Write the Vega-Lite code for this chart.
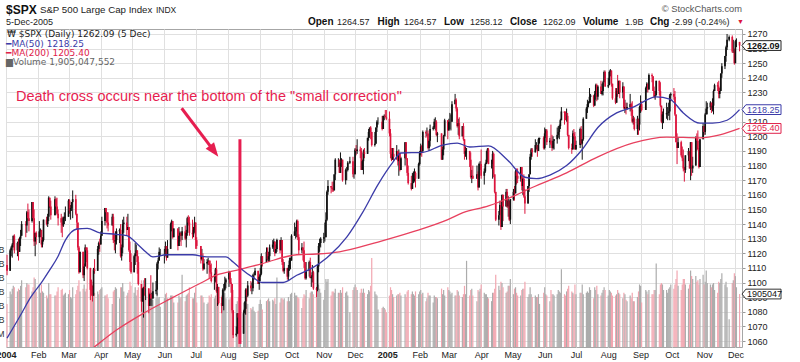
{
"$schema": "https://vega.github.io/schema/vega-lite/v6.json",
"width": 736, "height": 318,
"autosize": {"type": "none"},
"padding": {"left": 6, "top": 29, "right": 58, "bottom": 15},
"background": "white",
"config": {"font": "Liberation Sans", "view": {"stroke": "#a6a6a6", "strokeWidth": 1}, "axis": {"labelOverlap": false, "labelSeparation": 0}},
"datasets": {
"px": [
{"d":"2004-01-02","o":1112,"h":1119,"l":1105,"c":1108,"v":1.55},
{"d":"2004-01-05","o":1108,"h":1123,"l":1108,"c":1122,"v":2.0},
{"d":"2004-01-06","o":1122,"h":1125,"l":1118,"c":1124,"v":1.9},
{"d":"2004-01-07","o":1124,"h":1127,"l":1117,"c":1126,"v":2.1},
{"d":"2004-01-08","o":1126,"h":1132,"l":1124,"c":1132,"v":2.2},
{"d":"2004-01-09","o":1132,"h":1133,"l":1120,"c":1122,"v":2.15},
{"d":"2004-01-12","o":1122,"h":1128,"l":1118,"c":1127,"v":2.0},
{"d":"2004-01-13","o":1127,"h":1130,"l":1115,"c":1121,"v":2.1},
{"d":"2004-01-14","o":1121,"h":1131,"l":1121,"c":1130,"v":2.05},
{"d":"2004-01-15","o":1130,"h":1136,"l":1125,"c":1132,"v":2.2},
{"d":"2004-01-16","o":1132,"h":1142,"l":1132,"c":1140,"v":2.4},
{"d":"2004-01-20","o":1140,"h":1142,"l":1131,"c":1139,"v":2.15},
{"d":"2004-01-21","o":1139,"h":1149,"l":1134,"c":1148,"v":2.3},
{"d":"2004-01-22","o":1148,"h":1154,"l":1142,"c":1144,"v":2.25},
{"d":"2004-01-23","o":1144,"h":1150,"l":1135,"c":1142,"v":2.25},
{"d":"2004-01-26","o":1142,"h":1155,"l":1141,"c":1155,"v":2.0},
{"d":"2004-01-27","o":1155,"h":1155,"l":1143,"c":1144,"v":2.15},
{"d":"2004-01-28","o":1144,"h":1150,"l":1125,"c":1128,"v":2.5},
{"d":"2004-01-29","o":1128,"h":1134,"l":1118,"c":1134,"v":2.45},
{"d":"2004-01-30","o":1134,"h":1135,"l":1126,"c":1131,"v":2.0},
{"d":"2004-02-02","o":1131,"h":1142,"l":1127,"c":1135,"v":2.2},
{"d":"2004-02-03","o":1135,"h":1137,"l":1131,"c":1136,"v":1.95},
{"d":"2004-02-04","o":1136,"h":1136,"l":1124,"c":1126,"v":2.25},
{"d":"2004-02-05","o":1126,"h":1131,"l":1124,"c":1129,"v":2.0},
{"d":"2004-02-06","o":1129,"h":1143,"l":1128,"c":1143,"v":1.95},
{"d":"2004-02-09","o":1143,"h":1145,"l":1139,"c":1140,"v":1.85},
{"d":"2004-02-10","o":1140,"h":1147,"l":1138,"c":1145,"v":1.75},
{"d":"2004-02-11","o":1145,"h":1159,"l":1142,"c":1158,"v":2.3},
{"d":"2004-02-12","o":1158,"h":1158,"l":1151,"c":1152,"v":1.9},
{"d":"2004-02-13","o":1152,"h":1156,"l":1143,"c":1146,"v":1.9},
{"d":"2004-02-17","o":1146,"h":1159,"l":1146,"c":1157,"v":1.85},
{"d":"2004-02-18","o":1157,"h":1158,"l":1150,"c":1152,"v":1.85},
{"d":"2004-02-19","o":1152,"h":1158,"l":1146,"c":1147,"v":2.0},
{"d":"2004-02-20","o":1147,"h":1150,"l":1139,"c":1144,"v":2.15},
{"d":"2004-02-23","o":1144,"h":1147,"l":1134,"c":1141,"v":2.05},
{"d":"2004-02-24","o":1141,"h":1145,"l":1131,"c":1139,"v":2.1},
{"d":"2004-02-25","o":1139,"h":1145,"l":1138,"c":1144,"v":1.85},
{"d":"2004-02-26","o":1144,"h":1148,"l":1140,"c":1145,"v":1.9},
{"d":"2004-02-27","o":1145,"h":1152,"l":1142,"c":1145,"v":1.95},
{"d":"2004-03-01","o":1145,"h":1157,"l":1145,"c":1156,"v":1.9},
{"d":"2004-03-02","o":1156,"h":1157,"l":1147,"c":1149,"v":2.05},
{"d":"2004-03-03","o":1149,"h":1153,"l":1143,"c":1151,"v":1.8},
{"d":"2004-03-04","o":1151,"h":1155,"l":1149,"c":1155,"v":1.75},
{"d":"2004-03-05","o":1155,"h":1163,"l":1144,"c":1157,"v":2.15},
{"d":"2004-03-08","o":1157,"h":1160,"l":1146,"c":1147,"v":1.9},
{"d":"2004-03-09","o":1147,"h":1147,"l":1136,"c":1141,"v":2.05},
{"d":"2004-03-10","o":1141,"h":1141,"l":1122,"c":1124,"v":2.2},
{"d":"2004-03-11","o":1124,"h":1125,"l":1106,"c":1107,"v":2.4},
{"d":"2004-03-12","o":1107,"h":1121,"l":1107,"c":1121,"v":2.0},
{"d":"2004-03-15","o":1121,"h":1121,"l":1103,"c":1105,"v":2.1},
{"d":"2004-03-16","o":1105,"h":1113,"l":1101,"c":1111,"v":2.25},
{"d":"2004-03-17","o":1111,"h":1126,"l":1111,"c":1124,"v":2.0},
{"d":"2004-03-18","o":1124,"h":1124,"l":1114,"c":1122,"v":2.1},
{"d":"2004-03-19","o":1122,"h":1124,"l":1109,"c":1110,"v":2.9},
{"d":"2004-03-22","o":1110,"h":1110,"l":1088,"c":1095,"v":2.45},
{"d":"2004-03-23","o":1095,"h":1102,"l":1091,"c":1094,"v":2.3},
{"d":"2004-03-24","o":1094,"h":1098,"l":1087,"c":1091,"v":2.35},
{"d":"2004-03-25","o":1091,"h":1110,"l":1091,"c":1109,"v":2.25},
{"d":"2004-03-26","o":1109,"h":1116,"l":1106,"c":1108,"v":1.95},
{"d":"2004-03-29","o":1108,"h":1125,"l":1108,"c":1123,"v":2.0},
{"d":"2004-03-30","o":1123,"h":1128,"l":1119,"c":1127,"v":1.9},
{"d":"2004-03-31","o":1127,"h":1130,"l":1121,"c":1126,"v":2.05},
{"d":"2004-04-01","o":1126,"h":1135,"l":1126,"c":1132,"v":2.1},
{"d":"2004-04-02","o":1132,"h":1145,"l":1132,"c":1142,"v":2.15},
{"d":"2004-04-05","o":1142,"h":1151,"l":1139,"c":1151,"v":1.85},
{"d":"2004-04-06","o":1151,"h":1151,"l":1141,"c":1148,"v":1.85},
{"d":"2004-04-07","o":1148,"h":1148,"l":1137,"c":1141,"v":1.9},
{"d":"2004-04-08","o":1141,"h":1148,"l":1135,"c":1139,"v":1.75},
{"d":"2004-04-12","o":1139,"h":1147,"l":1139,"c":1145,"v":1.55},
{"d":"2004-04-13","o":1145,"h":1147,"l":1127,"c":1129,"v":2.0},
{"d":"2004-04-14","o":1129,"h":1133,"l":1122,"c":1128,"v":2.05},
{"d":"2004-04-15","o":1128,"h":1135,"l":1120,"c":1129,"v":2.15},
{"d":"2004-04-16","o":1129,"h":1137,"l":1126,"c":1135,"v":2.1},
{"d":"2004-04-19","o":1135,"h":1137,"l":1127,"c":1136,"v":1.75},
{"d":"2004-04-20","o":1136,"h":1140,"l":1117,"c":1118,"v":2.15},
{"d":"2004-04-21","o":1118,"h":1126,"l":1115,"c":1124,"v":2.15},
{"d":"2004-04-22","o":1124,"h":1143,"l":1120,"c":1140,"v":2.3},
{"d":"2004-04-23","o":1140,"h":1145,"l":1134,"c":1141,"v":2.0},
{"d":"2004-04-26","o":1141,"h":1145,"l":1132,"c":1136,"v":1.85},
{"d":"2004-04-27","o":1136,"h":1147,"l":1136,"c":1138,"v":1.95},
{"d":"2004-04-28","o":1138,"h":1138,"l":1121,"c":1122,"v":2.05},
{"d":"2004-04-29","o":1122,"h":1128,"l":1108,"c":1114,"v":2.35},
{"d":"2004-04-30","o":1114,"h":1120,"l":1106,"c":1107,"v":2.2},
{"d":"2004-05-03","o":1107,"h":1119,"l":1107,"c":1118,"v":1.95},
{"d":"2004-05-04","o":1118,"h":1127,"l":1112,"c":1120,"v":2.15},
{"d":"2004-05-05","o":1120,"h":1126,"l":1118,"c":1122,"v":1.85},
{"d":"2004-05-06","o":1122,"h":1122,"l":1106,"c":1114,"v":2.05},
{"d":"2004-05-07","o":1114,"h":1118,"l":1098,"c":1099,"v":2.15},
{"d":"2004-05-10","o":1099,"h":1099,"l":1080,"c":1087,"v":2.4},
{"d":"2004-05-11","o":1087,"h":1096,"l":1087,"c":1096,"v":2.05},
{"d":"2004-05-12","o":1096,"h":1097,"l":1076,"c":1097,"v":2.4},
{"d":"2004-05-13","o":1097,"h":1103,"l":1091,"c":1096,"v":1.95},
{"d":"2004-05-14","o":1096,"h":1103,"l":1088,"c":1096,"v":1.85},
{"d":"2004-05-17","o":1096,"h":1096,"l":1079,"c":1084,"v":2.0},
{"d":"2004-05-18","o":1084,"h":1093,"l":1084,"c":1092,"v":1.85},
{"d":"2004-05-19","o":1092,"h":1105,"l":1088,"c":1089,"v":2.05},
{"d":"2004-05-20","o":1089,"h":1093,"l":1084,"c":1089,"v":1.7},
{"d":"2004-05-21","o":1089,"h":1100,"l":1089,"c":1094,"v":1.7},
{"d":"2004-05-24","o":1094,"h":1101,"l":1092,"c":1095,"v":1.75},
{"d":"2004-05-25","o":1095,"h":1114,"l":1091,"c":1113,"v":1.95},
{"d":"2004-05-26","o":1113,"h":1117,"l":1109,"c":1115,"v":1.75},
{"d":"2004-05-27","o":1115,"h":1124,"l":1115,"c":1121,"v":1.8},
{"d":"2004-05-28","o":1121,"h":1123,"l":1118,"c":1121,"v":1.45},
{"d":"2004-06-01","o":1121,"h":1123,"l":1113,"c":1121,"v":1.75},
{"d":"2004-06-02","o":1121,"h":1128,"l":1118,"c":1125,"v":1.9},
{"d":"2004-06-03","o":1125,"h":1125,"l":1115,"c":1117,"v":1.95},
{"d":"2004-06-04","o":1117,"h":1129,"l":1117,"c":1123,"v":1.75},
{"d":"2004-06-07","o":1123,"h":1141,"l":1123,"c":1140,"v":1.85},
{"d":"2004-06-08","o":1140,"h":1143,"l":1135,"c":1142,"v":1.85},
{"d":"2004-06-09","o":1142,"h":1142,"l":1130,"c":1131,"v":1.85},
{"d":"2004-06-10","o":1131,"h":1137,"l":1131,"c":1137,"v":1.6},
{"d":"2004-06-14","o":1137,"h":1137,"l":1122,"c":1125,"v":1.6},
{"d":"2004-06-15","o":1125,"h":1138,"l":1125,"c":1132,"v":1.85},
{"d":"2004-06-16","o":1132,"h":1135,"l":1128,"c":1134,"v":1.75},
{"d":"2004-06-17","o":1134,"h":1134,"l":1125,"c":1132,"v":1.8},
{"d":"2004-06-18","o":1132,"h":1138,"l":1129,"c":1135,"v":2.6},
{"d":"2004-06-21","o":1135,"h":1139,"l":1129,"c":1130,"v":1.65},
{"d":"2004-06-22","o":1130,"h":1136,"l":1124,"c":1134,"v":1.85},
{"d":"2004-06-23","o":1134,"h":1145,"l":1132,"c":1144,"v":1.9},
{"d":"2004-06-24","o":1144,"h":1146,"l":1139,"c":1141,"v":1.95},
{"d":"2004-06-25","o":1141,"h":1145,"l":1132,"c":1134,"v":2.15},
{"d":"2004-06-28","o":1134,"h":1143,"l":1130,"c":1133,"v":1.75},
{"d":"2004-06-29","o":1133,"h":1138,"l":1131,"c":1136,"v":1.75},
{"d":"2004-06-30","o":1136,"h":1145,"l":1134,"c":1141,"v":1.95},
{"d":"2004-07-01","o":1141,"h":1141,"l":1123,"c":1129,"v":2.15},
{"d":"2004-07-02","o":1129,"h":1131,"l":1123,"c":1125,"v":1.6},
{"d":"2004-07-06","o":1125,"h":1125,"l":1113,"c":1116,"v":1.85},
{"d":"2004-07-07","o":1116,"h":1123,"l":1115,"c":1118,"v":1.85},
{"d":"2004-07-08","o":1118,"h":1120,"l":1108,"c":1109,"v":1.8},
{"d":"2004-07-09","o":1109,"h":1116,"l":1109,"c":1113,"v":1.6},
{"d":"2004-07-12","o":1113,"h":1116,"l":1106,"c":1114,"v":1.55},
{"d":"2004-07-13","o":1114,"h":1117,"l":1112,"c":1115,"v":1.6},
{"d":"2004-07-14","o":1115,"h":1115,"l":1103,"c":1112,"v":1.85},
{"d":"2004-07-15","o":1112,"h":1115,"l":1106,"c":1107,"v":1.8},
{"d":"2004-07-16","o":1107,"h":1113,"l":1100,"c":1101,"v":1.9},
{"d":"2004-07-19","o":1101,"h":1106,"l":1095,"c":1101,"v":1.75},
{"d":"2004-07-20","o":1101,"h":1110,"l":1100,"c":1109,"v":1.85},
{"d":"2004-07-21","o":1109,"h":1115,"l":1093,"c":1094,"v":2.05},
{"d":"2004-07-22","o":1094,"h":1099,"l":1084,"c":1097,"v":2.0},
{"d":"2004-07-23","o":1097,"h":1097,"l":1085,"c":1086,"v":1.8},
{"d":"2004-07-26","o":1086,"h":1090,"l":1079,"c":1084,"v":1.85},
{"d":"2004-07-27","o":1084,"h":1096,"l":1084,"c":1095,"v":1.95},
{"d":"2004-07-28","o":1095,"h":1099,"l":1081,"c":1095,"v":1.95},
{"d":"2004-07-29","o":1095,"h":1104,"l":1094,"c":1100,"v":1.95},
{"d":"2004-07-30","o":1100,"h":1103,"l":1096,"c":1102,"v":1.75},
{"d":"2004-08-02","o":1102,"h":1108,"l":1097,"c":1107,"v":1.7},
{"d":"2004-08-03","o":1107,"h":1107,"l":1099,"c":1100,"v":1.75},
{"d":"2004-08-04","o":1100,"h":1103,"l":1093,"c":1099,"v":1.8},
{"d":"2004-08-05","o":1099,"h":1099,"l":1079,"c":1081,"v":1.85},
{"d":"2004-08-06","o":1081,"h":1081,"l":1062,"c":1064,"v":2.05},
{"d":"2004-08-09","o":1064,"h":1070,"l":1063,"c":1065,"v":1.55},
{"d":"2004-08-10","o":1065,"h":1079,"l":1065,"c":1079,"v":1.65},
{"d":"2004-08-11","o":1079,"h":1079,"l":1065,"c":1076,"v":1.8},
{"d":"2004-08-12","o":1076,"h":1076,"l":1063,"c":1065,"v":1.7},
{"d":"2004-08-13","o":1065,"h":1069,"l":1060,"c":1065,"v":1.5},
{"d":"2004-08-16","o":1065,"h":1081,"l":1065,"c":1079,"v":1.6},
{"d":"2004-08-17","o":1079,"h":1087,"l":1079,"c":1082,"v":1.65},
{"d":"2004-08-18","o":1082,"h":1096,"l":1078,"c":1095,"v":1.55},
{"d":"2004-08-19","o":1095,"h":1096,"l":1087,"c":1091,"v":1.6},
{"d":"2004-08-20","o":1091,"h":1101,"l":1090,"c":1098,"v":1.55},
{"d":"2004-08-23","o":1098,"h":1101,"l":1094,"c":1096,"v":1.4},
{"d":"2004-08-24","o":1096,"h":1100,"l":1092,"c":1096,"v":1.35},
{"d":"2004-08-25","o":1096,"h":1106,"l":1094,"c":1105,"v":1.45},
{"d":"2004-08-26","o":1105,"h":1107,"l":1102,"c":1105,"v":1.3},
{"d":"2004-08-27","o":1105,"h":1110,"l":1105,"c":1108,"v":1.25},
{"d":"2004-08-30","o":1108,"h":1108,"l":1099,"c":1099,"v":1.3},
{"d":"2004-08-31","o":1099,"h":1105,"l":1095,"c":1104,"v":1.55},
{"d":"2004-09-01","o":1104,"h":1110,"l":1101,"c":1106,"v":1.7},
{"d":"2004-09-02","o":1106,"h":1120,"l":1105,"c":1118,"v":1.55},
{"d":"2004-09-03","o":1118,"h":1118,"l":1111,"c":1114,"v":1.35},
{"d":"2004-09-07","o":1114,"h":1124,"l":1114,"c":1121,"v":1.65},
{"d":"2004-09-08","o":1121,"h":1124,"l":1115,"c":1116,"v":1.7},
{"d":"2004-09-09","o":1116,"h":1121,"l":1114,"c":1118,"v":1.75},
{"d":"2004-09-10","o":1118,"h":1126,"l":1114,"c":1124,"v":1.65},
{"d":"2004-09-13","o":1124,"h":1129,"l":1123,"c":1126,"v":1.7},
{"d":"2004-09-14","o":1126,"h":1130,"l":1121,"c":1128,"v":1.65},
{"d":"2004-09-15","o":1128,"h":1128,"l":1118,"c":1120,"v":1.75},
{"d":"2004-09-16","o":1120,"h":1126,"l":1120,"c":1123,"v":1.55},
{"d":"2004-09-17","o":1123,"h":1130,"l":1121,"c":1129,"v":2.5},
{"d":"2004-09-20","o":1129,"h":1129,"l":1120,"c":1122,"v":1.6},
{"d":"2004-09-21","o":1122,"h":1131,"l":1122,"c":1129,"v":1.75},
{"d":"2004-09-22","o":1129,"h":1129,"l":1112,"c":1114,"v":1.75},
{"d":"2004-09-23","o":1114,"h":1116,"l":1107,"c":1108,"v":1.7},
{"d":"2004-09-24","o":1108,"h":1114,"l":1106,"c":1110,"v":1.75},
{"d":"2004-09-27","o":1110,"h":1110,"l":1102,"c":1104,"v":1.65},
{"d":"2004-09-28","o":1104,"h":1112,"l":1101,"c":1110,"v":1.8},
{"d":"2004-09-29","o":1110,"h":1117,"l":1108,"c":1115,"v":1.65},
{"d":"2004-09-30","o":1115,"h":1117,"l":1109,"c":1115,"v":1.9},
{"d":"2004-10-01","o":1115,"h":1133,"l":1115,"c":1132,"v":1.95},
{"d":"2004-10-04","o":1132,"h":1141,"l":1132,"c":1135,"v":1.95},
{"d":"2004-10-05","o":1135,"h":1138,"l":1130,"c":1135,"v":1.85},
{"d":"2004-10-06","o":1135,"h":1143,"l":1131,"c":1142,"v":1.85},
{"d":"2004-10-07","o":1142,"h":1143,"l":1129,"c":1131,"v":1.8},
{"d":"2004-10-08","o":1131,"h":1133,"l":1119,"c":1122,"v":1.75},
{"d":"2004-10-11","o":1122,"h":1127,"l":1120,"c":1124,"v":1.4},
{"d":"2004-10-12","o":1124,"h":1124,"l":1115,"c":1122,"v":1.75},
{"d":"2004-10-13","o":1122,"h":1128,"l":1110,"c":1114,"v":1.9},
{"d":"2004-10-14","o":1114,"h":1114,"l":1102,"c":1103,"v":1.85},
{"d":"2004-10-15","o":1103,"h":1114,"l":1102,"c":1108,"v":2.05},
{"d":"2004-10-18","o":1108,"h":1115,"l":1104,"c":1114,"v":1.75},
{"d":"2004-10-19","o":1114,"h":1117,"l":1103,"c":1103,"v":1.95},
{"d":"2004-10-20","o":1103,"h":1105,"l":1097,"c":1104,"v":2.0},
{"d":"2004-10-21","o":1104,"h":1112,"l":1100,"c":1107,"v":2.0},
{"d":"2004-10-22","o":1107,"h":1108,"l":1095,"c":1096,"v":1.9},
{"d":"2004-10-25","o":1096,"h":1097,"l":1090,"c":1095,"v":1.9},
{"d":"2004-10-26","o":1095,"h":1112,"l":1094,"c":1111,"v":2.15},
{"d":"2004-10-27","o":1111,"h":1127,"l":1107,"c":1125,"v":2.25},
{"d":"2004-10-28","o":1125,"h":1130,"l":1121,"c":1127,"v":2.1},
{"d":"2004-10-29","o":1127,"h":1131,"l":1124,"c":1130,"v":1.95},
{"d":"2004-11-01","o":1130,"h":1134,"l":1127,"c":1131,"v":1.7},
{"d":"2004-11-02","o":1131,"h":1141,"l":1128,"c":1131,"v":2.05},
{"d":"2004-11-03","o":1131,"h":1148,"l":1131,"c":1143,"v":2.45},
{"d":"2004-11-04","o":1143,"h":1163,"l":1142,"c":1162,"v":2.35},
{"d":"2004-11-05","o":1162,"h":1170,"l":1160,"c":1166,"v":2.45},
{"d":"2004-11-08","o":1166,"h":1166,"l":1161,"c":1165,"v":1.85},
{"d":"2004-11-09","o":1165,"h":1169,"l":1162,"c":1164,"v":2.0},
{"d":"2004-11-10","o":1164,"h":1169,"l":1162,"c":1163,"v":2.0},
{"d":"2004-11-11","o":1163,"h":1174,"l":1163,"c":1174,"v":1.95},
{"d":"2004-11-12","o":1174,"h":1185,"l":1170,"c":1184,"v":2.1},
{"d":"2004-11-15","o":1184,"h":1185,"l":1179,"c":1184,"v":1.95},
{"d":"2004-11-16","o":1184,"h":1184,"l":1175,"c":1175,"v":1.95},
{"d":"2004-11-17","o":1175,"h":1189,"l":1175,"c":1182,"v":2.05},
{"d":"2004-11-18","o":1182,"h":1185,"l":1179,"c":1184,"v":1.95},
{"d":"2004-11-19","o":1184,"h":1184,"l":1169,"c":1170,"v":2.15},
{"d":"2004-11-22","o":1170,"h":1178,"l":1167,"c":1177,"v":1.95},
{"d":"2004-11-23","o":1177,"h":1179,"l":1170,"c":1177,"v":2.0},
{"d":"2004-11-24","o":1177,"h":1183,"l":1176,"c":1182,"v":1.85},
{"d":"2004-11-26","o":1182,"h":1186,"l":1181,"c":1183,"v":1.25},
{"d":"2004-11-29","o":1183,"h":1186,"l":1172,"c":1174,"v":2.05},
{"d":"2004-11-30","o":1174,"h":1178,"l":1171,"c":1174,"v":2.15},
{"d":"2004-12-01","o":1174,"h":1192,"l":1174,"c":1191,"v":2.25},
{"d":"2004-12-02","o":1191,"h":1194,"l":1187,"c":1190,"v":2.15},
{"d":"2004-12-03","o":1190,"h":1198,"l":1188,"c":1191,"v":2.05},
{"d":"2004-12-06","o":1191,"h":1193,"l":1185,"c":1190,"v":1.95},
{"d":"2004-12-07","o":1190,"h":1192,"l":1177,"c":1177,"v":2.1},
{"d":"2004-12-08","o":1177,"h":1184,"l":1177,"c":1183,"v":1.95},
{"d":"2004-12-09","o":1183,"h":1191,"l":1174,"c":1189,"v":2.1},
{"d":"2004-12-10","o":1189,"h":1192,"l":1185,"c":1188,"v":1.95},
{"d":"2004-12-13","o":1188,"h":1199,"l":1188,"c":1199,"v":1.9},
{"d":"2004-12-14","o":1199,"h":1205,"l":1197,"c":1203,"v":2.05},
{"d":"2004-12-15","o":1203,"h":1206,"l":1199,"c":1206,"v":2.0},
{"d":"2004-12-16","o":1206,"h":1207,"l":1198,"c":1203,"v":2.2},
{"d":"2004-12-17","o":1203,"h":1203,"l":1193,"c":1194,"v":3.2},
{"d":"2004-12-20","o":1194,"h":1203,"l":1193,"c":1195,"v":2.0},
{"d":"2004-12-21","o":1195,"h":1206,"l":1195,"c":1206,"v":1.9},
{"d":"2004-12-22","o":1206,"h":1211,"l":1203,"c":1210,"v":1.85},
{"d":"2004-12-23","o":1210,"h":1213,"l":1208,"c":1210,"v":1.35},
{"d":"2004-12-27","o":1210,"h":1214,"l":1204,"c":1205,"v":1.4},
{"d":"2004-12-28","o":1205,"h":1214,"l":1205,"c":1214,"v":1.45},
{"d":"2004-12-29","o":1214,"h":1215,"l":1211,"c":1214,"v":1.4},
{"d":"2004-12-30","o":1214,"h":1218,"l":1213,"c":1213,"v":1.35},
{"d":"2004-12-31","o":1213,"h":1218,"l":1211,"c":1212,"v":1.25},
{"d":"2005-01-03","o":1212,"h":1217,"l":1200,"c":1202,"v":1.85},
{"d":"2005-01-04","o":1202,"h":1205,"l":1185,"c":1188,"v":2.15},
{"d":"2005-01-05","o":1188,"h":1192,"l":1183,"c":1184,"v":2.05},
{"d":"2005-01-06","o":1184,"h":1192,"l":1184,"c":1188,"v":1.9},
{"d":"2005-01-07","o":1188,"h":1192,"l":1183,"c":1186,"v":1.8},
{"d":"2005-01-10","o":1186,"h":1194,"l":1184,"c":1190,"v":1.85},
{"d":"2005-01-11","o":1190,"h":1190,"l":1180,"c":1183,"v":1.9},
{"d":"2005-01-12","o":1183,"h":1191,"l":1173,"c":1188,"v":1.9},
{"d":"2005-01-13","o":1188,"h":1189,"l":1176,"c":1177,"v":1.95},
{"d":"2005-01-14","o":1177,"h":1186,"l":1177,"c":1185,"v":1.85},
{"d":"2005-01-18","o":1185,"h":1196,"l":1180,"c":1196,"v":1.9},
{"d":"2005-01-19","o":1196,"h":1196,"l":1184,"c":1185,"v":1.8},
{"d":"2005-01-20","o":1185,"h":1185,"l":1173,"c":1175,"v":2.0},
{"d":"2005-01-21","o":1175,"h":1180,"l":1167,"c":1168,"v":2.05},
{"d":"2005-01-24","o":1168,"h":1173,"l":1163,"c":1164,"v":1.9},
{"d":"2005-01-25","o":1164,"h":1175,"l":1164,"c":1168,"v":2.0},
{"d":"2005-01-26","o":1168,"h":1176,"l":1168,"c":1174,"v":1.9},
{"d":"2005-01-27","o":1174,"h":1178,"l":1169,"c":1175,"v":1.85},
{"d":"2005-01-28","o":1175,"h":1176,"l":1165,"c":1171,"v":2.0},
{"d":"2005-01-31","o":1171,"h":1182,"l":1171,"c":1181,"v":1.9},
{"d":"2005-02-01","o":1181,"h":1190,"l":1180,"c":1189,"v":2.0},
{"d":"2005-02-02","o":1189,"h":1195,"l":1187,"c":1193,"v":2.05},
{"d":"2005-02-03","o":1193,"h":1194,"l":1186,"c":1190,"v":1.9},
{"d":"2005-02-04","o":1190,"h":1204,"l":1189,"c":1203,"v":1.95},
{"d":"2005-02-07","o":1203,"h":1204,"l":1199,"c":1202,"v":1.65},
{"d":"2005-02-08","o":1202,"h":1206,"l":1200,"c":1202,"v":1.75},
{"d":"2005-02-09","o":1202,"h":1204,"l":1191,"c":1192,"v":1.95},
{"d":"2005-02-10","o":1192,"h":1198,"l":1190,"c":1197,"v":1.85},
{"d":"2005-02-11","o":1197,"h":1208,"l":1193,"c":1205,"v":1.85},
{"d":"2005-02-14","o":1205,"h":1207,"l":1204,"c":1206,"v":1.6},
{"d":"2005-02-15","o":1206,"h":1212,"l":1205,"c":1210,"v":1.85},
{"d":"2005-02-16","o":1210,"h":1213,"l":1204,"c":1210,"v":1.8},
{"d":"2005-02-17","o":1210,"h":1211,"l":1200,"c":1201,"v":1.8},
{"d":"2005-02-18","o":1201,"h":1203,"l":1196,"c":1202,"v":1.75},
{"d":"2005-02-22","o":1202,"h":1202,"l":1184,"c":1184,"v":2.1},
{"d":"2005-02-23","o":1184,"h":1193,"l":1184,"c":1191,"v":1.9},
{"d":"2005-02-24","o":1191,"h":1201,"l":1187,"c":1200,"v":2.05},
{"d":"2005-02-25","o":1200,"h":1212,"l":1200,"c":1211,"v":1.85},
{"d":"2005-02-28","o":1211,"h":1211,"l":1198,"c":1204,"v":2.15},
{"d":"2005-03-01","o":1204,"h":1212,"l":1204,"c":1210,"v":2.05},
{"d":"2005-03-02","o":1210,"h":1216,"l":1205,"c":1210,"v":2.0},
{"d":"2005-03-03","o":1210,"h":1215,"l":1204,"c":1210,"v":1.9},
{"d":"2005-03-04","o":1210,"h":1224,"l":1210,"c":1222,"v":1.95},
{"d":"2005-03-07","o":1222,"h":1229,"l":1222,"c":1225,"v":1.85},
{"d":"2005-03-08","o":1225,"h":1226,"l":1217,"c":1219,"v":1.85},
{"d":"2005-03-09","o":1219,"h":1220,"l":1206,"c":1207,"v":2.05},
{"d":"2005-03-10","o":1207,"h":1212,"l":1201,"c":1209,"v":2.0},
{"d":"2005-03-11","o":1209,"h":1213,"l":1198,"c":1200,"v":1.85},
{"d":"2005-03-14","o":1200,"h":1207,"l":1200,"c":1207,"v":1.8},
{"d":"2005-03-15","o":1207,"h":1209,"l":1197,"c":1198,"v":1.9},
{"d":"2005-03-16","o":1198,"h":1198,"l":1184,"c":1188,"v":2.2},
{"d":"2005-03-17","o":1188,"h":1193,"l":1186,"c":1190,"v":1.9},
{"d":"2005-03-18","o":1190,"h":1192,"l":1184,"c":1190,"v":3.1},
{"d":"2005-03-21","o":1190,"h":1190,"l":1179,"c":1184,"v":1.85},
{"d":"2005-03-22","o":1184,"h":1189,"l":1171,"c":1172,"v":2.05},
{"d":"2005-03-23","o":1172,"h":1177,"l":1168,"c":1173,"v":2.1},
{"d":"2005-03-24","o":1173,"h":1180,"l":1171,"c":1171,"v":1.85},
{"d":"2005-03-28","o":1171,"h":1180,"l":1171,"c":1174,"v":1.65},
{"d":"2005-03-29","o":1174,"h":1176,"l":1163,"c":1165,"v":2.05},
{"d":"2005-03-30","o":1165,"h":1182,"l":1165,"c":1181,"v":2.0},
{"d":"2005-03-31","o":1181,"h":1183,"l":1177,"c":1181,"v":2.1},
{"d":"2005-04-01","o":1181,"h":1191,"l":1171,"c":1173,"v":2.25},
{"d":"2005-04-04","o":1173,"h":1178,"l":1167,"c":1176,"v":1.95},
{"d":"2005-04-05","o":1176,"h":1182,"l":1175,"c":1181,"v":1.9},
{"d":"2005-04-06","o":1181,"h":1190,"l":1181,"c":1184,"v":1.9},
{"d":"2005-04-07","o":1184,"h":1192,"l":1182,"c":1191,"v":1.8},
{"d":"2005-04-08","o":1191,"h":1192,"l":1181,"c":1181,"v":1.75},
{"d":"2005-04-11","o":1181,"h":1184,"l":1178,"c":1181,"v":1.65},
{"d":"2005-04-12","o":1181,"h":1190,"l":1171,"c":1188,"v":1.95},
{"d":"2005-04-13","o":1188,"h":1189,"l":1172,"c":1174,"v":1.95},
{"d":"2005-04-14","o":1174,"h":1174,"l":1161,"c":1162,"v":2.1},
{"d":"2005-04-15","o":1162,"h":1162,"l":1142,"c":1143,"v":2.6},
{"d":"2005-04-18","o":1143,"h":1149,"l":1139,"c":1146,"v":2.2},
{"d":"2005-04-19","o":1146,"h":1156,"l":1146,"c":1153,"v":2.05},
{"d":"2005-04-20","o":1153,"h":1156,"l":1136,"c":1138,"v":2.35},
{"d":"2005-04-21","o":1138,"h":1160,"l":1138,"c":1160,"v":2.3},
{"d":"2005-04-22","o":1160,"h":1160,"l":1142,"c":1152,"v":2.15},
{"d":"2005-04-25","o":1152,"h":1164,"l":1152,"c":1162,"v":1.95},
{"d":"2005-04-26","o":1162,"h":1164,"l":1151,"c":1152,"v":2.0},
{"d":"2005-04-27","o":1152,"h":1159,"l":1145,"c":1156,"v":2.2},
{"d":"2005-04-28","o":1156,"h":1156,"l":1142,"c":1143,"v":2.2},
{"d":"2005-04-29","o":1143,"h":1157,"l":1140,"c":1157,"v":2.45},
{"d":"2005-05-02","o":1157,"h":1164,"l":1156,"c":1162,"v":1.9},
{"d":"2005-05-03","o":1162,"h":1166,"l":1156,"c":1161,"v":2.1},
{"d":"2005-05-04","o":1161,"h":1177,"l":1161,"c":1176,"v":2.15},
{"d":"2005-05-05","o":1176,"h":1178,"l":1167,"c":1173,"v":1.95},
{"d":"2005-05-06","o":1173,"h":1178,"l":1168,"c":1171,"v":1.85},
{"d":"2005-05-09","o":1171,"h":1179,"l":1169,"c":1179,"v":1.85},
{"d":"2005-05-10","o":1179,"h":1179,"l":1163,"c":1166,"v":2.05},
{"d":"2005-05-11","o":1166,"h":1172,"l":1160,"c":1171,"v":2.1},
{"d":"2005-05-12","o":1171,"h":1174,"l":1158,"c":1159,"v":2.1},
{"d":"2005-05-13","o":1159,"h":1164,"l":1147,"c":1154,"v":2.35},
{"d":"2005-05-16","o":1154,"h":1166,"l":1154,"c":1166,"v":1.8},
{"d":"2005-05-17","o":1166,"h":1174,"l":1162,"c":1174,"v":1.9},
{"d":"2005-05-18","o":1174,"h":1188,"l":1174,"c":1186,"v":2.15},
{"d":"2005-05-19","o":1186,"h":1192,"l":1184,"c":1191,"v":1.9},
{"d":"2005-05-20","o":1191,"h":1192,"l":1186,"c":1189,"v":1.8},
{"d":"2005-05-23","o":1189,"h":1198,"l":1189,"c":1194,"v":1.85},
{"d":"2005-05-24","o":1194,"h":1196,"l":1191,"c":1194,"v":1.8},
{"d":"2005-05-25","o":1194,"h":1194,"l":1186,"c":1190,"v":1.8},
{"d":"2005-05-26","o":1190,"h":1199,"l":1190,"c":1198,"v":1.9},
{"d":"2005-05-27","o":1198,"h":1199,"l":1195,"c":1199,"v":1.55},
{"d":"2005-05-31","o":1199,"h":1200,"l":1191,"c":1192,"v":1.95},
{"d":"2005-06-01","o":1192,"h":1206,"l":1191,"c":1202,"v":2.15},
{"d":"2005-06-02","o":1202,"h":1205,"l":1199,"c":1204,"v":1.9},
{"d":"2005-06-03","o":1204,"h":1205,"l":1194,"c":1196,"v":1.85},
{"d":"2005-06-06","o":1196,"h":1199,"l":1192,"c":1197,"v":1.65},
{"d":"2005-06-07","o":1197,"h":1208,"l":1194,"c":1195,"v":2.05},
{"d":"2005-06-08","o":1195,"h":1201,"l":1190,"c":1192,"v":1.9},
{"d":"2005-06-09","o":1192,"h":1200,"l":1191,"c":1197,"v":1.9},
{"d":"2005-06-10","o":1197,"h":1198,"l":1191,"c":1198,"v":1.85},
{"d":"2005-06-13","o":1198,"h":1206,"l":1195,"c":1201,"v":1.9},
{"d":"2005-06-14","o":1201,"h":1207,"l":1199,"c":1203,"v":2.05},
{"d":"2005-06-15","o":1203,"h":1208,"l":1198,"c":1207,"v":2.0},
{"d":"2005-06-16","o":1207,"h":1212,"l":1205,"c":1211,"v":1.95},
{"d":"2005-06-17","o":1211,"h":1220,"l":1211,"c":1217,"v":2.8},
{"d":"2005-06-20","o":1217,"h":1217,"l":1208,"c":1216,"v":1.9},
{"d":"2005-06-21","o":1216,"h":1217,"l":1211,"c":1214,"v":1.85},
{"d":"2005-06-22","o":1214,"h":1219,"l":1210,"c":1214,"v":2.0},
{"d":"2005-06-23","o":1214,"h":1216,"l":1200,"c":1201,"v":2.1},
{"d":"2005-06-24","o":1201,"h":1201,"l":1191,"c":1192,"v":2.2},
{"d":"2005-06-27","o":1192,"h":1195,"l":1188,"c":1191,"v":2.0},
{"d":"2005-06-28","o":1191,"h":1204,"l":1191,"c":1202,"v":1.95},
{"d":"2005-06-29","o":1202,"h":1205,"l":1198,"c":1200,"v":1.9},
{"d":"2005-06-30","o":1200,"h":1203,"l":1191,"c":1191,"v":2.25},
{"d":"2005-07-01","o":1191,"h":1197,"l":1191,"c":1194,"v":1.9},
{"d":"2005-07-05","o":1194,"h":1206,"l":1192,"c":1205,"v":1.95},
{"d":"2005-07-06","o":1205,"h":1207,"l":1194,"c":1195,"v":1.95},
{"d":"2005-07-07","o":1195,"h":1198,"l":1184,"c":1198,"v":2.25},
{"d":"2005-07-08","o":1198,"h":1213,"l":1197,"c":1212,"v":1.9},
{"d":"2005-07-11","o":1212,"h":1220,"l":1212,"c":1219,"v":1.95},
{"d":"2005-07-12","o":1219,"h":1225,"l":1216,"c":1222,"v":2.0},
{"d":"2005-07-13","o":1222,"h":1224,"l":1220,"c":1223,"v":1.95},
{"d":"2005-07-14","o":1223,"h":1233,"l":1223,"c":1227,"v":2.15},
{"d":"2005-07-15","o":1227,"h":1229,"l":1223,"c":1228,"v":2.05},
{"d":"2005-07-18","o":1228,"h":1228,"l":1220,"c":1221,"v":1.75},
{"d":"2005-07-19","o":1221,"h":1231,"l":1221,"c":1229,"v":2.15},
{"d":"2005-07-20","o":1229,"h":1236,"l":1225,"c":1235,"v":2.05},
{"d":"2005-07-21","o":1235,"h":1236,"l":1224,"c":1227,"v":2.2},
{"d":"2005-07-22","o":1227,"h":1235,"l":1225,"c":1234,"v":1.9},
{"d":"2005-07-25","o":1234,"h":1238,"l":1229,"c":1229,"v":1.85},
{"d":"2005-07-26","o":1229,"h":1236,"l":1228,"c":1231,"v":1.95},
{"d":"2005-07-27","o":1231,"h":1238,"l":1228,"c":1237,"v":2.05},
{"d":"2005-07-28","o":1237,"h":1245,"l":1237,"c":1244,"v":2.15},
{"d":"2005-07-29","o":1244,"h":1245,"l":1234,"c":1234,"v":2.05},
{"d":"2005-08-01","o":1234,"h":1240,"l":1233,"c":1235,"v":1.85},
{"d":"2005-08-02","o":1235,"h":1245,"l":1235,"c":1244,"v":2.05},
{"d":"2005-08-03","o":1244,"h":1246,"l":1241,"c":1245,"v":2.0},
{"d":"2005-08-04","o":1245,"h":1245,"l":1234,"c":1236,"v":1.95},
{"d":"2005-08-05","o":1236,"h":1236,"l":1225,"c":1226,"v":1.85},
{"d":"2005-08-08","o":1226,"h":1233,"l":1222,"c":1223,"v":1.85},
{"d":"2005-08-09","o":1223,"h":1233,"l":1223,"c":1231,"v":1.9},
{"d":"2005-08-10","o":1231,"h":1242,"l":1227,"c":1229,"v":2.05},
{"d":"2005-08-11","o":1229,"h":1238,"l":1229,"c":1238,"v":1.95},
{"d":"2005-08-12","o":1238,"h":1238,"l":1226,"c":1230,"v":1.9},
{"d":"2005-08-15","o":1230,"h":1237,"l":1226,"c":1234,"v":1.75},
{"d":"2005-08-16","o":1234,"h":1234,"l":1219,"c":1219,"v":1.95},
{"d":"2005-08-17","o":1219,"h":1225,"l":1216,"c":1220,"v":1.9},
{"d":"2005-08-18","o":1220,"h":1223,"l":1215,"c":1219,"v":1.7},
{"d":"2005-08-19","o":1219,"h":1223,"l":1218,"c":1220,"v":1.65},
{"d":"2005-08-22","o":1220,"h":1229,"l":1217,"c":1222,"v":1.85},
{"d":"2005-08-23","o":1222,"h":1223,"l":1214,"c":1218,"v":1.75},
{"d":"2005-08-24","o":1218,"h":1224,"l":1209,"c":1210,"v":1.95},
{"d":"2005-08-25","o":1210,"h":1214,"l":1208,"c":1212,"v":1.65},
{"d":"2005-08-26","o":1212,"h":1213,"l":1204,"c":1205,"v":1.65},
{"d":"2005-08-29","o":1205,"h":1214,"l":1201,"c":1212,"v":1.8},
{"d":"2005-08-30","o":1212,"h":1212,"l":1201,"c":1208,"v":2.0},
{"d":"2005-08-31","o":1208,"h":1221,"l":1204,"c":1220,"v":2.25},
{"d":"2005-09-01","o":1220,"h":1228,"l":1216,"c":1222,"v":2.2},
{"d":"2005-09-02","o":1222,"h":1224,"l":1217,"c":1218,"v":1.6},
{"d":"2005-09-06","o":1218,"h":1234,"l":1218,"c":1233,"v":2.05},
{"d":"2005-09-07","o":1233,"h":1237,"l":1230,"c":1236,"v":2.0},
{"d":"2005-09-08","o":1236,"h":1236,"l":1230,"c":1232,"v":1.9},
{"d":"2005-09-09","o":1232,"h":1243,"l":1232,"c":1242,"v":2.05},
{"d":"2005-09-12","o":1242,"h":1243,"l":1237,"c":1241,"v":1.9},
{"d":"2005-09-13","o":1241,"h":1241,"l":1231,"c":1231,"v":1.9},
{"d":"2005-09-14","o":1231,"h":1234,"l":1226,"c":1227,"v":2.05},
{"d":"2005-09-15","o":1227,"h":1231,"l":1225,"c":1228,"v":2.05},
{"d":"2005-09-16","o":1228,"h":1238,"l":1228,"c":1238,"v":3.0},
{"d":"2005-09-19","o":1238,"h":1238,"l":1228,"c":1231,"v":1.9},
{"d":"2005-09-20","o":1231,"h":1237,"l":1220,"c":1221,"v":2.25},
{"d":"2005-09-21","o":1221,"h":1221,"l":1209,"c":1210,"v":2.3},
{"d":"2005-09-22","o":1210,"h":1217,"l":1205,"c":1215,"v":2.25},
{"d":"2005-09-23","o":1215,"h":1219,"l":1209,"c":1215,"v":2.05},
{"d":"2005-09-26","o":1215,"h":1223,"l":1212,"c":1216,"v":2.05},
{"d":"2005-09-27","o":1216,"h":1220,"l":1211,"c":1216,"v":1.95},
{"d":"2005-09-28","o":1216,"h":1223,"l":1214,"c":1217,"v":2.1},
{"d":"2005-09-29","o":1217,"h":1229,"l":1211,"c":1228,"v":2.15},
{"d":"2005-09-30","o":1228,"h":1230,"l":1224,"c":1229,"v":2.25},
{"d":"2005-10-03","o":1229,"h":1233,"l":1225,"c":1227,"v":2.1},
{"d":"2005-10-04","o":1227,"h":1231,"l":1214,"c":1215,"v":2.25},
{"d":"2005-10-05","o":1215,"h":1215,"l":1196,"c":1196,"v":2.45},
{"d":"2005-10-06","o":1196,"h":1202,"l":1181,"c":1192,"v":2.75},
{"d":"2005-10-07","o":1192,"h":1199,"l":1192,"c":1196,"v":2.2},
{"d":"2005-10-10","o":1196,"h":1197,"l":1186,"c":1187,"v":2.05},
{"d":"2005-10-11","o":1187,"h":1193,"l":1183,"c":1185,"v":2.25},
{"d":"2005-10-12","o":1185,"h":1191,"l":1176,"c":1178,"v":2.45},
{"d":"2005-10-13","o":1178,"h":1179,"l":1169,"c":1177,"v":2.45},
{"d":"2005-10-14","o":1177,"h":1187,"l":1175,"c":1187,"v":2.25},
{"d":"2005-10-17","o":1187,"h":1192,"l":1183,"c":1190,"v":2.1},
{"d":"2005-10-18","o":1190,"h":1190,"l":1178,"c":1178,"v":2.25},
{"d":"2005-10-19","o":1178,"h":1196,"l":1170,"c":1196,"v":2.75},
{"d":"2005-10-20","o":1196,"h":1196,"l":1173,"c":1178,"v":2.55},
{"d":"2005-10-21","o":1178,"h":1186,"l":1175,"c":1180,"v":2.45},
{"d":"2005-10-24","o":1180,"h":1200,"l":1180,"c":1199,"v":2.55},
{"d":"2005-10-25","o":1199,"h":1202,"l":1190,"c":1197,"v":2.35},
{"d":"2005-10-26","o":1197,"h":1204,"l":1191,"c":1191,"v":2.4},
{"d":"2005-10-27","o":1191,"h":1192,"l":1178,"c":1179,"v":2.25},
{"d":"2005-10-28","o":1179,"h":1198,"l":1179,"c":1198,"v":2.45},
{"d":"2005-10-31","o":1198,"h":1209,"l":1198,"c":1207,"v":2.6},
{"d":"2005-11-01","o":1207,"h":1207,"l":1201,"c":1203,"v":2.25},
{"d":"2005-11-02","o":1203,"h":1216,"l":1201,"c":1215,"v":2.35},
{"d":"2005-11-03","o":1215,"h":1224,"l":1215,"c":1219,"v":2.75},
{"d":"2005-11-04","o":1219,"h":1223,"l":1215,"c":1220,"v":2.3},
{"d":"2005-11-07","o":1220,"h":1224,"l":1218,"c":1223,"v":2.25},
{"d":"2005-11-08","o":1223,"h":1223,"l":1216,"c":1219,"v":2.15},
{"d":"2005-11-09","o":1219,"h":1226,"l":1217,"c":1221,"v":2.25},
{"d":"2005-11-10","o":1221,"h":1232,"l":1215,"c":1231,"v":2.3},
{"d":"2005-11-11","o":1231,"h":1236,"l":1231,"c":1235,"v":2.05},
{"d":"2005-11-14","o":1235,"h":1237,"l":1231,"c":1234,"v":1.95},
{"d":"2005-11-15","o":1234,"h":1238,"l":1226,"c":1229,"v":2.35},
{"d":"2005-11-16","o":1229,"h":1233,"l":1226,"c":1231,"v":2.3},
{"d":"2005-11-17","o":1231,"h":1243,"l":1231,"c":1243,"v":2.45},
{"d":"2005-11-18","o":1243,"h":1250,"l":1240,"c":1248,"v":2.65},
{"d":"2005-11-21","o":1248,"h":1255,"l":1246,"c":1255,"v":2.25},
{"d":"2005-11-22","o":1255,"h":1262,"l":1251,"c":1261,"v":2.35},
{"d":"2005-11-23","o":1261,"h":1270,"l":1259,"c":1266,"v":2.15},
{"d":"2005-11-25","o":1266,"h":1269,"l":1265,"c":1268,"v":1.0},
{"d":"2005-11-28","o":1268,"h":1269,"l":1257,"c":1258,"v":2.3},
{"d":"2005-11-29","o":1258,"h":1266,"l":1257,"c":1258,"v":2.4},
{"d":"2005-11-30","o":1258,"h":1260,"l":1249,"c":1250,"v":2.65},
{"d":"2005-12-01","o":1250,"h":1266,"l":1250,"c":1265,"v":2.55},
{"d":"2005-12-02","o":1265,"h":1267,"l":1261,"c":1265,"v":2.15},
{"d":"2005-12-05","o":1264.57,"h":1264.57,"l":1258.12,"c":1262.09,"v":1.905}
],
"m50": [
{"d":"2004-01-02","m":1062},{"d":"2004-01-16","m":1079},{"d":"2004-01-23","m":1088},{"d":"2004-02-05","m":1101},
{"d":"2004-02-12","m":1108.6},{"d":"2004-02-20","m":1118},{"d":"2004-02-27","m":1129},{"d":"2004-03-09","m":1136.6},
{"d":"2004-03-19","m":1137},{"d":"2004-03-31","m":1134},{"d":"2004-04-16","m":1133},{"d":"2004-04-26","m":1132},
{"d":"2004-05-07","m":1125.7},{"d":"2004-05-14","m":1121},{"d":"2004-05-21","m":1117.5},{"d":"2004-06-03","m":1119},
{"d":"2004-06-28","m":1119},{"d":"2004-07-12","m":1117.5},{"d":"2004-07-30","m":1117.5},{"d":"2004-08-06","m":1114},
{"d":"2004-08-12","m":1110.3},{"d":"2004-08-25","m":1103.5},{"d":"2004-09-03","m":1100},{"d":"2004-09-23","m":1100},
{"d":"2004-10-06","m":1105},{"d":"2004-10-21","m":1110},{"d":"2004-11-04","m":1117},{"d":"2004-11-23","m":1131},
{"d":"2004-12-08","m":1147.6},{"d":"2004-12-23","m":1167},{"d":"2005-01-06","m":1182},{"d":"2005-01-14","m":1188.6},
{"d":"2005-02-04","m":1189},{"d":"2005-02-23","m":1194},{"d":"2005-03-09","m":1195.4},{"d":"2005-03-21","m":1192.7},
{"d":"2005-04-08","m":1193.5},{"d":"2005-04-26","m":1184},{"d":"2005-05-13","m":1172},{"d":"2005-05-24","m":1171},
{"d":"2005-06-06","m":1173.5},{"d":"2005-06-22","m":1180},{"d":"2005-07-07","m":1191},{"d":"2005-07-22","m":1206},
{"d":"2005-08-09","m":1216},{"d":"2005-08-25","m":1220},{"d":"2005-09-16","m":1227},{"d":"2005-09-29","m":1225.5},
{"d":"2005-10-12","m":1216},{"d":"2005-10-28","m":1209},{"d":"2005-11-09","m":1209},{"d":"2005-11-23","m":1211},
{"d":"2005-12-05","m":1218.25}
],
"m200": [
{"d":"2004-03-19","m":1052},{"d":"2004-03-26","m":1056},{"d":"2004-04-16","m":1067.5},{"d":"2004-05-12","m":1079},
{"d":"2004-06-07","m":1089},{"d":"2004-07-06","m":1099.7},{"d":"2004-07-21","m":1105},{"d":"2004-08-12","m":1108.8},
{"d":"2004-09-03","m":1113},{"d":"2004-10-06","m":1119},{"d":"2004-10-25","m":1119.5},{"d":"2004-11-16","m":1121},
{"d":"2004-12-23","m":1127.7},{"d":"2005-01-25","m":1134.6},{"d":"2005-02-28","m":1143},{"d":"2005-03-14","m":1147.6},
{"d":"2005-04-08","m":1152.4},{"d":"2005-05-05","m":1160},{"d":"2005-05-20","m":1165},{"d":"2005-06-22","m":1175},
{"d":"2005-07-22","m":1186},{"d":"2005-08-25","m":1195.5},{"d":"2005-09-26","m":1199.5},{"d":"2005-10-28","m":1199},
{"d":"2005-11-16","m":1201},{"d":"2005-12-05","m":1205.4}
]
},
"resolve": {"scale": {"y": "independent"}},
"layer": [
{
 "layer": [
  {
   "data": {"name": "px"},
   "mark": {"type": "rule", "strokeWidth": 1.2},
   "encoding": {
    "x": {"field": "d", "type": "temporal",
     "scale": {"type": "utc", "nice": false, "domain": [{"year":2004,"month":1,"date":1,"utc":true},{"year":2005,"month":12,"date":7,"hours":8,"utc":true}]},
     "axis": {"title": null, "orient": "bottom", "tickCount": {"interval": "month", "step": 1}, "grid": true, "gridColor": "#e0e0e0", "ticks": false, "domain": false, "labelPadding": 3, "labelFlush": false, "labelOverlap": false, "labelFontSize": 9, "labelColor": "#222",
      "labelExpr": "utcmonth(datum.value) == 0 ? utcFormat(datum.value, '%Y') : utcFormat(datum.value, '%b')",
      "labelFontWeight": {"condition": {"test": "utcmonth(datum.value) == 0", "value": "bold"}, "value": "normal"}}},
    "y": {"field": "v", "type": "quantitative", "scale": {"domain": [0, 11.44], "nice": false},
     "axis": {"title": null, "orient": "left", "values": [0.5,1,1.5,2,2.5,3,3.5], "grid": false, "ticks": false, "domain": false, "labelPadding": 2, "labelFontSize": 9, "labelColor": "#333", "labelOverlap": false,
      "labelExpr": "datum.value < 1 ? '500M' : format(datum.value, '.1f') + 'B'"}},
    "y2": {"datum": 0},
    "color": {"condition": {"test": "datum.c >= datum.o", "value": "#acacac"}, "value": "#f2a6b0"}
   }
  },
  {
   "data": {"values": [{}]},
   "mark": {"type": "point", "shape": "M0,0L0.2,-0.25L2,-0.25L2,0.25L0.2,0.25Z", "size": 1521, "filled": true, "fill": "white", "stroke": "#333", "strokeWidth": 1, "opacity": 1},
   "encoding": {"x": {"datum": {"year":2005,"month":12,"date":7,"hours":8,"utc":true}, "type": "temporal"}, "y": {"datum": 1.905, "type": "quantitative"}}
  },
  {
   "data": {"values": [{}]},
   "mark": {"type": "text", "text": "1905047", "align": "left", "baseline": "middle", "dx": 5, "fontSize": 9, "color": "#111"},
   "encoding": {"x": {"datum": {"year":2005,"month":12,"date":7,"hours":8,"utc":true}, "type": "temporal"}, "y": {"datum": 1.905, "type": "quantitative"}}
  }
 ]
},
{
 "data": {"name": "px"},
 "mark": {"type": "rule", "strokeWidth": 1},
 "encoding": {
  "x": {"field": "d", "type": "temporal"},
  "y": {"field": "l", "type": "quantitative", "scale": {"domain": [1055.9, 1273.4], "nice": false, "zero": false},
   "axis": {"title": null, "orient": "right", "values": [1060,1070,1080,1090,1100,1110,1120,1130,1140,1150,1160,1170,1180,1190,1200,1210,1220,1230,1240,1250,1260,1270], "format": "d", "labelOverlap": false, "labelSeparation": 0, "grid": true, "gridColor": "#e0e0e0", "tickSize": 3, "tickColor": "#999", "domain": false, "labelPadding": 2, "labelFontSize": 9, "labelColor": "#222", "labelFlush": false}},
  "y2": {"field": "h"},
  "color": {"condition": {"test": "datum.c >= datum.o", "value": "#111111"}, "value": "#dc143c"}
 }
},
{
 "layer": [
  {
   "data": {"name": "px"},
   "mark": {"type": "rule", "strokeWidth": 1.7},
   "encoding": {
    "x": {"field": "d", "type": "temporal"},
    "y": {"field": "o", "type": "quantitative", "scale": {"domain": [1055.9, 1273.4], "nice": false, "zero": false}, "axis": null},
    "y2": {"field": "c"},
    "color": {"condition": {"test": "datum.c >= datum.o", "value": "#111111"}, "value": "#dc143c"}
   }
  },
  {
   "data": {"name": "m200"},
   "mark": {"type": "line", "color": "#e8405e", "strokeWidth": 1.3, "interpolate": "monotone", "clip": true},
   "encoding": {"x": {"field": "d", "type": "temporal"}, "y": {"field": "m", "type": "quantitative", "scale": {"domain": [1055.9, 1273.4], "nice": false, "zero": false}, "axis": null}}
  },
  {
   "data": {"name": "m50"},
   "mark": {"type": "line", "color": "#3b3ba8", "strokeWidth": 1.3, "interpolate": "monotone", "clip": true},
   "encoding": {"x": {"field": "d", "type": "temporal"}, "y": {"field": "m", "type": "quantitative", "scale": {"domain": [1055.9, 1273.4], "nice": false, "zero": false}, "axis": null}}
  },
  {
   "data": {"values": [{}]},
   "mark": {"type": "rule", "color": "#e61e50", "strokeWidth": 3},
   "encoding": {"x": {"datum": {"year":2004,"month":8,"date":12,"hours":12,"utc":true}, "type": "temporal"},
    "y": {"datum": 1198, "type": "quantitative", "scale": {"domain": [1055.9, 1273.4], "nice": false, "zero": false}, "axis": null}, "y2": {"datum": 1058}}
  },
  {
   "data": {"values": [{}]},
   "mark": {"type": "rule", "color": "#e61e50", "strokeWidth": 3},
   "encoding": {"x": {"datum": {"year":2004,"month":6,"date":17,"hours":14,"utc":true}, "type": "temporal"},
    "x2": {"datum": {"year":2004,"month":7,"date":18,"hours":17,"utc":true}},
    "y": {"datum": 1219.2, "type": "quantitative", "scale": {"domain": [1055.9, 1273.4], "nice": false, "zero": false}, "axis": null}, "y2": {"datum": 1189.9}}
  },
  {
   "data": {"values": [{}]},
   "mark": {"type": "point", "shape": "M1,0L-1,-0.75L-1,0.75Z", "size": 196, "angle": 52.9, "filled": true, "color": "#e61e50", "opacity": 1},
   "encoding": {"x": {"datum": {"year":2004,"month":7,"date":18,"hours":17,"utc":true}, "type": "temporal"},
    "y": {"datum": 1189.9, "type": "quantitative", "scale": {"domain": [1055.9, 1273.4], "nice": false, "zero": false}, "axis": null}}
  },
  {
   "data": {"values": [{}]},
   "mark": {"type": "text", "text": "Death cross occurs near the bottom of the \"small correction\"", "align": "left", "baseline": "middle", "fontSize": 14.5, "color": "#e61e50"},
   "encoding": {"x": {"datum": {"year":2004,"month":1,"date":10,"hours":14,"utc":true}, "type": "temporal"},
    "y": {"datum": 1226.6, "type": "quantitative", "scale": {"domain": [1055.9, 1273.4], "nice": false, "zero": false}, "axis": null}}
  },
  {
   "data": {"values": [{}]},
   "mark": {"type": "text", "text": "₩ $SPX (Daily) 1262.09 (5 Dec)", "align": "left", "baseline": "middle", "font": "DejaVu Sans", "fontSize": 9, "color": "#222"},
   "encoding": {"x": {"datum": {"year":2004,"month":1,"date":1,"hours":23,"utc":true}, "type": "temporal"},
    "y": {"datum": 1270, "type": "quantitative", "scale": {"domain": [1055.9, 1273.4], "nice": false, "zero": false}, "axis": null}}
  },
  {
   "data": {"values": [{}]},
   "mark": {"type": "text", "text": "━MA(50) 1218.25", "align": "left", "baseline": "middle", "font": "DejaVu Sans", "fontSize": 9, "color": "#3b3ba8"},
   "encoding": {"x": {"datum": {"year":2004,"month":1,"date":1,"utc":true}, "type": "temporal"},
    "y": {"datum": 1263.4, "type": "quantitative", "scale": {"domain": [1055.9, 1273.4], "nice": false, "zero": false}, "axis": null}}
  },
  {
   "data": {"values": [{}]},
   "mark": {"type": "text", "text": "━MA(200) 1205.40", "align": "left", "baseline": "middle", "font": "DejaVu Sans", "fontSize": 9, "color": "#e0204a"},
   "encoding": {"x": {"datum": {"year":2004,"month":1,"date":1,"utc":true}, "type": "temporal"},
    "y": {"datum": 1257, "type": "quantitative", "scale": {"domain": [1055.9, 1273.4], "nice": false, "zero": false}, "axis": null}}
  },
  {
   "data": {"values": [{}]},
   "mark": {"type": "text", "text": "▆Volume 1,905,047,552", "align": "left", "baseline": "middle", "font": "DejaVu Sans", "fontSize": 9, "color": "#666"},
   "encoding": {"x": {"datum": {"year":2004,"month":1,"date":1,"utc":true}, "type": "temporal"},
    "y": {"datum": 1250.8, "type": "quantitative", "scale": {"domain": [1055.9, 1273.4], "nice": false, "zero": false}, "axis": null}}
  },
  {
   "data": {"values": [{}]},
   "mark": {"type": "text", "text": "$SPX", "align": "left", "baseline": "middle", "fontSize": 12, "fontWeight": "bold", "color": "#111"},
   "encoding": {"x": {"datum": {"year":2004,"month":1,"date":1,"utc":true}, "type": "temporal"},
    "y": {"datum": 1286.6, "type": "quantitative", "scale": {"domain": [1055.9, 1273.4], "nice": false, "zero": false}, "axis": null}}
  },
  {
   "data": {"values": [{}]},
   "mark": {"type": "text", "text": "S&P 500 Large Cap Index", "align": "left", "baseline": "middle", "fontSize": 9.7, "color": "#222"},
   "encoding": {"x": {"datum": {"year":2004,"month":2,"date":2,"hours":14,"utc":true}, "type": "temporal"},
    "y": {"datum": 1286.6, "type": "quantitative", "scale": {"domain": [1055.9, 1273.4], "nice": false, "zero": false}, "axis": null}}
  },
  {
   "data": {"values": [{}]},
   "mark": {"type": "text", "text": "INDX", "align": "left", "baseline": "middle", "fontSize": 8.5, "color": "#222"},
   "encoding": {"x": {"datum": {"year":2004,"month":5,"date":23,"hours":22,"utc":true}, "type": "temporal"},
    "y": {"datum": 1286.6, "type": "quantitative", "scale": {"domain": [1055.9, 1273.4], "nice": false, "zero": false}, "axis": null}}
  },
  {
   "data": {"values": [{}]},
   "mark": {"type": "text", "text": "5-Dec-2005", "align": "left", "baseline": "middle", "fontSize": 9, "color": "#222"},
   "encoding": {"x": {"datum": {"year":2004,"month":1,"date":1,"utc":true}, "type": "temporal"},
    "y": {"datum": 1278.5, "type": "quantitative", "scale": {"domain": [1055.9, 1273.4], "nice": false, "zero": false}, "axis": null}}
  },
  {
   "data": {"values": [{}]},
   "mark": {"type": "text", "text": "© StockCharts.com", "align": "right", "baseline": "middle", "fontSize": 9.3, "color": "#555"},
   "encoding": {"x": {"datum": {"year":2005,"month":12,"date":7,"hours":8,"utc":true}, "type": "temporal"},
    "y": {"datum": 1286.8, "type": "quantitative", "scale": {"domain": [1055.9, 1273.4], "nice": false, "zero": false}, "axis": null}}
  },
  {
   "data": {"values": [{}]},
   "mark": {"type": "text", "text": "Open", "align": "left", "baseline": "middle", "fontSize": 10, "fontWeight": "bold", "color": "#111"},
   "encoding": {"x": {"datum": {"year":2004,"month":10,"date":16,"hours":19,"utc":true}, "type": "temporal"},
    "y": {"datum": 1278.5, "type": "quantitative", "scale": {"domain": [1055.9, 1273.4], "nice": false, "zero": false}, "axis": null}}
  },
  {
   "data": {"values": [{}]},
   "mark": {"type": "text", "text": "1264.57", "align": "left", "baseline": "middle", "fontSize": 9, "color": "#222"},
   "encoding": {"x": {"datum": {"year":2004,"month":11,"date":13,"hours":14,"utc":true}, "type": "temporal"},
    "y": {"datum": 1278.5, "type": "quantitative", "scale": {"domain": [1055.9, 1273.4], "nice": false, "zero": false}, "axis": null}}
  },
  {
   "data": {"values": [{}]},
   "mark": {"type": "text", "text": "High", "align": "left", "baseline": "middle", "fontSize": 10, "fontWeight": "bold", "color": "#111"},
   "encoding": {"x": {"datum": {"year":2004,"month":12,"date":22,"hours":12,"utc":true}, "type": "temporal"},
    "y": {"datum": 1278.5, "type": "quantitative", "scale": {"domain": [1055.9, 1273.4], "nice": false, "zero": false}, "axis": null}}
  },
  {
   "data": {"values": [{}]},
   "mark": {"type": "text", "text": "1264.57", "align": "left", "baseline": "middle", "fontSize": 9, "color": "#222"},
   "encoding": {"x": {"datum": {"year":2005,"month":1,"date":17,"utc":true}, "type": "temporal"},
    "y": {"datum": 1278.5, "type": "quantitative", "scale": {"domain": [1055.9, 1273.4], "nice": false, "zero": false}, "axis": null}}
  },
  {
   "data": {"values": [{}]},
   "mark": {"type": "text", "text": "Low", "align": "left", "baseline": "middle", "fontSize": 10, "fontWeight": "bold", "color": "#111"},
   "encoding": {"x": {"datum": {"year":2005,"month":2,"date":24,"hours":7,"utc":true}, "type": "temporal"},
    "y": {"datum": 1278.5, "type": "quantitative", "scale": {"domain": [1055.9, 1273.4], "nice": false, "zero": false}, "axis": null}}
  },
  {
   "data": {"values": [{}]},
   "mark": {"type": "text", "text": "1258.12", "align": "left", "baseline": "middle", "fontSize": 9, "color": "#222"},
   "encoding": {"x": {"datum": {"year":2005,"month":3,"date":21,"hours":7,"utc":true}, "type": "temporal"},
    "y": {"datum": 1278.5, "type": "quantitative", "scale": {"domain": [1055.9, 1273.4], "nice": false, "zero": false}, "axis": null}}
  },
  {
   "data": {"values": [{}]},
   "mark": {"type": "text", "text": "Close", "align": "left", "baseline": "middle", "fontSize": 10, "fontWeight": "bold", "color": "#111"},
   "encoding": {"x": {"datum": {"year":2005,"month":4,"date":28,"hours":14,"utc":true}, "type": "temporal"},
    "y": {"datum": 1278.5, "type": "quantitative", "scale": {"domain": [1055.9, 1273.4], "nice": false, "zero": false}, "axis": null}}
  },
  {
   "data": {"values": [{}]},
   "mark": {"type": "text", "text": "1262.09", "align": "left", "baseline": "middle", "fontSize": 9, "color": "#222"},
   "encoding": {"x": {"datum": {"year":2005,"month":5,"date":30,"hours":7,"utc":true}, "type": "temporal"},
    "y": {"datum": 1278.5, "type": "quantitative", "scale": {"domain": [1055.9, 1273.4], "nice": false, "zero": false}, "axis": null}}
  },
  {
   "data": {"values": [{}]},
   "mark": {"type": "text", "text": "Volume", "align": "left", "baseline": "middle", "fontSize": 10, "fontWeight": "bold", "color": "#111"},
   "encoding": {"x": {"datum": {"year":2005,"month":7,"date":7,"hours":17,"utc":true}, "type": "temporal"},
    "y": {"datum": 1278.5, "type": "quantitative", "scale": {"domain": [1055.9, 1273.4], "nice": false, "zero": false}, "axis": null}}
  },
  {
   "data": {"values": [{}]},
   "mark": {"type": "text", "text": "1.9B", "align": "left", "baseline": "middle", "fontSize": 9, "color": "#222"},
   "encoding": {"x": {"datum": {"year":2005,"month":8,"date":17,"utc":true}, "type": "temporal"},
    "y": {"datum": 1278.5, "type": "quantitative", "scale": {"domain": [1055.9, 1273.4], "nice": false, "zero": false}, "axis": null}}
  },
  {
   "data": {"values": [{}]},
   "mark": {"type": "text", "text": "Chg", "align": "left", "baseline": "middle", "fontSize": 10, "fontWeight": "bold", "color": "#111"},
   "encoding": {"x": {"datum": {"year":2005,"month":9,"date":10,"utc":true}, "type": "temporal"},
    "y": {"datum": 1278.5, "type": "quantitative", "scale": {"domain": [1055.9, 1273.4], "nice": false, "zero": false}, "axis": null}}
  },
  {
   "data": {"values": [{}]},
   "mark": {"type": "text", "text": "-2.99 (-0.24%)", "align": "left", "baseline": "middle", "fontSize": 9, "color": "#222"},
   "encoding": {"x": {"datum": {"year":2005,"month":10,"date":1,"hours":2,"utc":true}, "type": "temporal"},
    "y": {"datum": 1278.5, "type": "quantitative", "scale": {"domain": [1055.9, 1273.4], "nice": false, "zero": false}, "axis": null}}
  },
  {
   "data": {"values": [{}]},
   "mark": {"type": "text", "text": "▼", "align": "left", "baseline": "middle", "fontSize": 7, "color": "#dc143c"},
   "encoding": {"x": {"datum": {"year":2005,"month":12,"date":2,"hours":12,"utc":true}, "type": "temporal"},
    "y": {"datum": 1278.3, "type": "quantitative", "scale": {"domain": [1055.9, 1273.4], "nice": false, "zero": false}, "axis": null}}
  },
  {
   "data": {"values": [{}]},
   "mark": {"type": "point", "shape": "M0,0L0.2,-0.25L2,-0.25L2,0.25L0.2,0.25Z", "size": 1521, "filled": true, "fill": "white", "stroke": "#222", "strokeWidth": 1, "opacity": 1},
   "encoding": {"x": {"datum": {"year":2005,"month":12,"date":7,"hours":8,"utc":true}, "type": "temporal"},
    "y": {"datum": 1262.09, "type": "quantitative", "scale": {"domain": [1055.9, 1273.4], "nice": false, "zero": false}, "axis": null}}
  },
  {
   "data": {"values": [{}]},
   "mark": {"type": "text", "text": "1262.09", "align": "left", "baseline": "middle", "dx": 5, "fontSize": 9, "fontWeight": "bold", "color": "#111"},
   "encoding": {"x": {"datum": {"year":2005,"month":12,"date":7,"hours":8,"utc":true}, "type": "temporal"},
    "y": {"datum": 1262.09, "type": "quantitative", "scale": {"domain": [1055.9, 1273.4], "nice": false, "zero": false}, "axis": null}}
  },
  {
   "data": {"values": [{}]},
   "mark": {"type": "point", "shape": "M0,0L0.2,-0.25L2,-0.25L2,0.25L0.2,0.25Z", "size": 1521, "filled": true, "fill": "white", "stroke": "#3b3ba8", "strokeWidth": 1, "opacity": 1},
   "encoding": {"x": {"datum": {"year":2005,"month":12,"date":7,"hours":8,"utc":true}, "type": "temporal"},
    "y": {"datum": 1218.25, "type": "quantitative", "scale": {"domain": [1055.9, 1273.4], "nice": false, "zero": false}, "axis": null}}
  },
  {
   "data": {"values": [{}]},
   "mark": {"type": "text", "text": "1218.25", "align": "left", "baseline": "middle", "dx": 5, "fontSize": 9, "color": "#3b3ba8"},
   "encoding": {"x": {"datum": {"year":2005,"month":12,"date":7,"hours":8,"utc":true}, "type": "temporal"},
    "y": {"datum": 1218.25, "type": "quantitative", "scale": {"domain": [1055.9, 1273.4], "nice": false, "zero": false}, "axis": null}}
  },
  {
   "data": {"values": [{}]},
   "mark": {"type": "point", "shape": "M0,0L0.2,-0.25L2,-0.25L2,0.25L0.2,0.25Z", "size": 1521, "filled": true, "fill": "white", "stroke": "#e0204a", "strokeWidth": 1, "opacity": 1},
   "encoding": {"x": {"datum": {"year":2005,"month":12,"date":7,"hours":8,"utc":true}, "type": "temporal"},
    "y": {"datum": 1205.4, "type": "quantitative", "scale": {"domain": [1055.9, 1273.4], "nice": false, "zero": false}, "axis": null}}
  },
  {
   "data": {"values": [{}]},
   "mark": {"type": "text", "text": "1205.40", "align": "left", "baseline": "middle", "dx": 5, "fontSize": 9, "color": "#e0204a"},
   "encoding": {"x": {"datum": {"year":2005,"month":12,"date":7,"hours":8,"utc":true}, "type": "temporal"},
    "y": {"datum": 1205.4, "type": "quantitative", "scale": {"domain": [1055.9, 1273.4], "nice": false, "zero": false}, "axis": null}}
  }
 ]
}
]
}
